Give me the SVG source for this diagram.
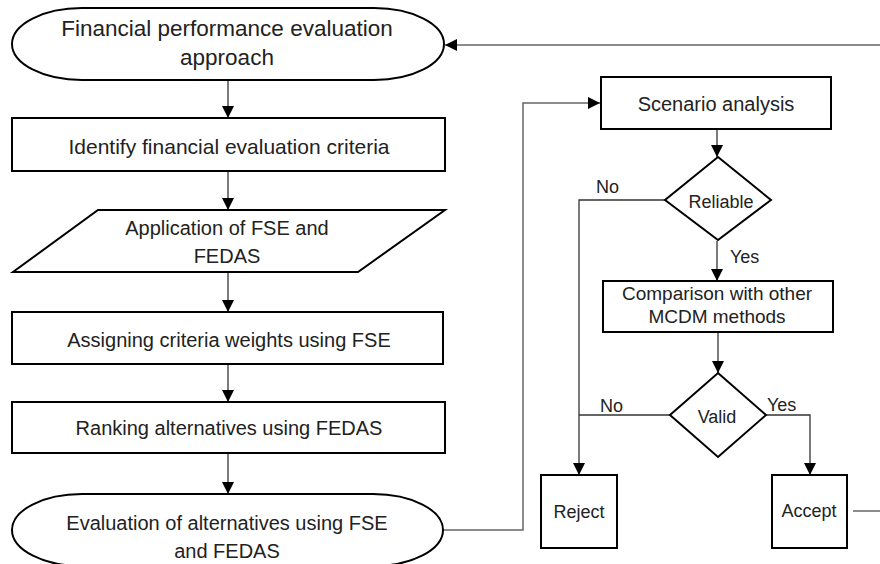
<svg xmlns="http://www.w3.org/2000/svg" width="880" height="564" viewBox="0 0 880 564">
<defs>
<marker id="ah" markerUnits="userSpaceOnUse" markerWidth="12" markerHeight="12" refX="12" refY="6" orient="auto">
<path d="M0,0 L12,6 L0,12 Z" fill="#000"/>
</marker>
<style>
.s{fill:#fff;stroke:#000;stroke-width:2}
.c{fill:none;stroke:#333;stroke-width:1.3}
.g{fill:none;stroke:#666;stroke-width:1.5}
.t{font-family:"Liberation Sans",Arial,sans-serif;font-size:20px;fill:#222;text-anchor:middle}
.m{font-family:"Liberation Sans",Arial,sans-serif;font-size:18px;fill:#222;text-anchor:middle}
.l{font-family:"Liberation Sans",Arial,sans-serif;font-size:18px;fill:#222}
</style>
</defs>
<rect width="880" height="564" fill="#fff"/>
<g id="connectors">
<line class="c" x1="228" y1="80" x2="228" y2="118" marker-end="url(#ah)"/>
<line class="c" x1="228" y1="171" x2="228" y2="210" marker-end="url(#ah)"/>
<line class="c" x1="228" y1="272" x2="228" y2="312" marker-end="url(#ah)"/>
<line class="c" x1="228" y1="364" x2="228" y2="402" marker-end="url(#ah)"/>
<line class="c" x1="228" y1="453" x2="228" y2="494" marker-end="url(#ah)"/>
<polyline class="g" points="443,530 523,530 523,103 600,103" marker-end="url(#ah)"/>
<line class="c" x1="717" y1="129" x2="717" y2="157" marker-end="url(#ah)"/>
<polyline class="c" points="665,200 579,200 579,475" marker-end="url(#ah)"/>
<line class="c" x1="717" y1="241" x2="717" y2="281" marker-end="url(#ah)"/>
<line class="c" x1="718" y1="332" x2="718" y2="373" marker-end="url(#ah)"/>
<line class="c" x1="670" y1="415" x2="579" y2="415"/>
<polyline class="c" points="766,415 810,415 810,475" marker-end="url(#ah)"/>
<line class="g" x1="853" y1="511" x2="880" y2="511"/>
<line class="g" x1="880" y1="45" x2="445" y2="45" marker-end="url(#ah)"/>
<text class="l" x="596" y="193">No</text>
<text class="l" x="730" y="263">Yes</text>
<text class="l" x="600" y="412">No</text>
<text class="l" x="767" y="411">Yes</text>
</g>
<g id="start">
<path class="s" d="M82,8 H374 A70,36 0 0 1 374,80 H82 A70,36 0 0 1 82,8 Z"/>
<text class="t" x="227" y="36" style="font-size:22.5px">Financial performance evaluation</text>
<text class="t" x="227" y="65" style="font-size:22.5px">approach</text>
</g>
<g id="identify">
<rect class="s" x="12" y="118" width="433" height="53"/>
<text class="t" x="229" y="154" style="font-size:21px">Identify financial evaluation criteria</text>
</g>
<g id="application">
<polygon class="s" points="98,210 445,210 358,272 13,272"/>
<text class="t" x="227" y="235">Application of FSE and</text>
<text class="t" x="227" y="263">FEDAS</text>
</g>
<g id="assigning">
<rect class="s" x="12" y="312" width="431" height="52"/>
<text class="t" x="229" y="347">Assigning criteria weights using FSE</text>
</g>
<g id="ranking">
<rect class="s" x="12" y="402" width="433" height="51"/>
<text class="t" x="229" y="435">Ranking alternatives using FEDAS</text>
</g>
<g id="evaluation">
<path class="s" d="M82,494 H373 A70,36 0 0 1 373,566 H82 A70,36 0 0 1 82,494 Z"/>
<text class="t" x="227" y="530">Evaluation of alternatives using FSE</text>
<text class="t" x="227" y="558">and FEDAS</text>
</g>
<g id="scenario">
<rect class="s" x="601" y="77" width="230" height="52"/>
<text class="t" x="716" y="111">Scenario analysis</text>
</g>
<g id="reliable">
<polygon class="s" points="718,157 771,200 718,240 665,200"/>
<text class="m" x="721" y="208">Reliable</text>
</g>
<g id="comparison">
<rect class="s" x="603" y="281" width="230" height="51"/>
<text class="m" x="717" y="300" style="font-size:19px">Comparison with other</text>
<text class="m" x="717" y="323" style="font-size:19px">MCDM methods</text>
</g>
<g id="valid">
<polygon class="s" points="718,373 766,415 718,457 670,415"/>
<text class="m" x="717" y="423">Valid</text>
</g>
<g id="reject">
<rect class="s" x="541" y="475" width="76" height="73"/>
<text class="m" x="579" y="518">Reject</text>
</g>
<g id="accept">
<rect class="s" x="772" y="475" width="75" height="73"/>
<text class="m" x="809" y="517">Accept</text>
</g>
</svg>
